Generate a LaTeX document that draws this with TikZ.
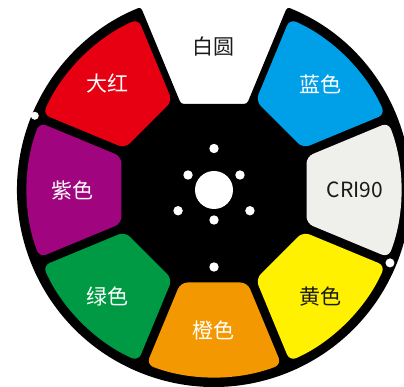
\documentclass[tikz,border=0pt]{standalone}
\usepackage{fontspec}
\setmainfont{Noto Sans CJK SC}

\definecolor{wheelred}{HTML}{E60012}
\definecolor{wheelblue}{HTML}{00A0E9}
\definecolor{wheelgray}{HTML}{EFEFEB}
\definecolor{wheelyellow}{HTML}{FFF100}
\definecolor{wheelorange}{HTML}{F39800}
\definecolor{wheelgreen}{HTML}{009944}
\definecolor{wheelpurple}{HTML}{A0047F}
\definecolor{wheelink}{HTML}{1A1A1A}

\begin{document}
\begin{tikzpicture}[x=1pt, y=1pt,
    filtertext/.style={font=\fontsize{21}{21}\selectfont, inner sep=0},
    hole/.style={fill=white}]
  \useasboundingbox (-214,-197) rectangle (190,190);

  % wheel body with the open slot at the top
  \fill[black, rounded corners=3pt] (68.21:197) arc[start angle=68.21, end angle=-248.21, radius=197]
    -- (-33,86) -- (33,86) -- cycle;

  % filters
  \foreach \ang/\col in {45/wheelblue, 0/wheelgray, -45/wheelyellow, -90/wheelorange,
                         -135/wheelgreen, 180/wheelpurple, 135/wheelred} {
    \fill[\col, rotate=\ang, rounded corners=7pt] (92.5,-33.4) -- (-21.12:187)
      arc[start angle=-21.12, end angle=21.12, radius=187] -- (92.5,33.4) -- cycle;
  }

  % labels
  \node[filtertext, text=wheelink] (white) at (90:144) {白圆};
  \node[filtertext, text=white] (blue) at (45:150) {蓝色};
  \node[filtertext, text=wheelink] (cri) at (0:141) {CRI90};
  \node[filtertext, text=wheelink] (yellow) at (-45:150) {黄色};
  \node[filtertext, text=white] (orange) at (-90:140) {橙色};
  \node[filtertext, text=white] (green) at (-135:150) {绿色};
  \node[filtertext, text=white] (purple) at (180:141) {紫色};
  \node[filtertext, text=white] (red) at (135:150) {大红};

  % hub
  \fill[hole] (0,0) circle[radius=19];
  \foreach \ang in {30,150,270}
    \fill[hole] (\ang:30) circle[radius=4.7];
  \foreach \ang in {90,210,330}
    \fill[hole] (\ang:41.5) circle[radius=4.7];
  \fill[hole] (0,-77) circle[radius=4.7];

  % rim marks
  \fill[hole] (157.5:194) circle[radius=4];
  \fill[hole] (-22.5:190.5) circle[radius=4.5];
\end{tikzpicture}
\end{document}
